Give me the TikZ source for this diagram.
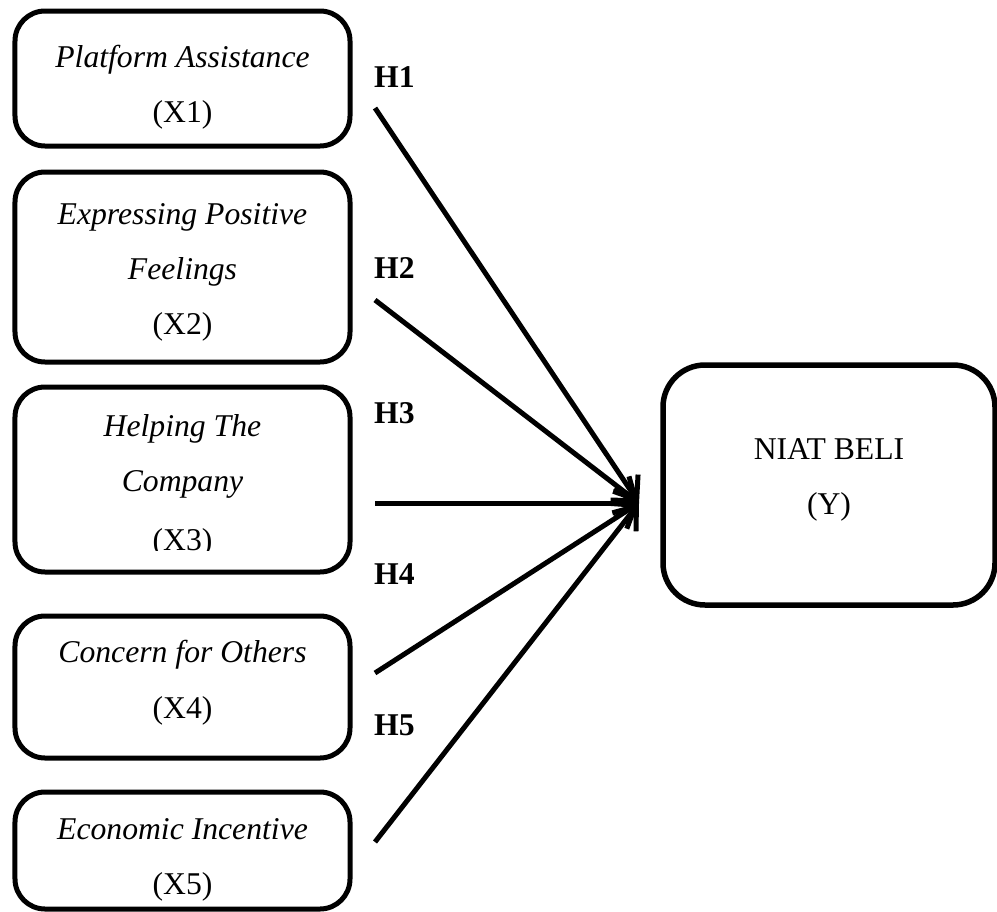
\documentclass[tikz,border=0pt]{standalone}
\usepackage{fontspec}
\setmainfont{Liberation Serif}
\usetikzlibrary{arrows.meta}
\begin{document}
\begin{tikzpicture}[x=1bp,y=-1bp,
  box/.style={draw, line width=5bp, rounded corners=30bp, inner sep=0pt, minimum width=335bp},
  ybox/.style={draw, line width=5.5bp, rounded corners=42bp, inner sep=0pt, minimum width=332bp, minimum height=240bp},
  txt/.style={anchor=base, inner sep=0pt, font=\fontsize{31.8}{38}\selectfont},
  itx/.style={txt, font=\fontsize{31.8}{38}\selectfont\itshape},
  hyp/.style={anchor=base west, inner sep=0pt, font=\fontsize{31.8}{38}\selectfont\bfseries},
  link/.style={line width=5bp, -{Straight Barb[length=20bp,width=30bp]}}
]
\useasboundingbox (0,0) rectangle (997,912);

% boxes
\node[box, minimum height=135bp] (b1) at (182.5,78.5) {};
\node[box, minimum height=190bp] (b2) at (182.5,267) {};
\node[box, minimum height=185bp] (b3) at (182.5,479.5) {};
\node[box, minimum height=142bp] (b4) at (182.5,687) {};
\node[box, minimum height=117bp] (b5) at (182.5,850.5) {};
\node[ybox] (y) at (829,485) {};

% texts
\node[itx] (t1a) at (182.5,67) {Platform Assistance};
\node[txt] (t1b) at (182.5,122) {(X1)};
\node[itx] (t2a) at (182.5,224) {Expressing Positive};
\node[itx] (t2b) at (182.5,279) {Feelings};
\node[txt] (t2c) at (182.5,334) {(X2)};
\node[itx] (t3a) at (182.5,436) {Helping The};
\node[itx] (t3b) at (182.5,491) {Company};
\begin{scope}
  \clip (15,500) rectangle (350,550);
  \node[txt] (t3c) at (182.5,550) {(X3)};
\end{scope}
\node[itx] (t4a) at (182.5,662) {Concern for Others};
\node[txt] (t4b) at (182.5,718) {(X4)};
\node[itx] (t5a) at (182.5,839) {Economic Incentive};
\node[txt] (t5b) at (182.5,894) {(X5)};
\node[txt] (ya) at (829,459) {NIAT BELI};
\node[txt] (yb) at (829,514) {(Y)};

% hypothesis labels
\node[hyp] (h1) at (374,87) {H1};
\node[hyp] (h2) at (374,278) {H2};
\node[hyp] (h3) at (374,423) {H3};
\node[hyp] (h4) at (374,584) {H4};
\node[hyp] (h5) at (374,735) {H5};

% connectors
\coordinate (s1) at (375,108);
\coordinate (s2) at (375,300);
\coordinate (s3) at (375,503);
\coordinate (s4) at (375,673);
\coordinate (s5) at (375,842);
\coordinate (tip) at (639,503);
\draw[link] (s1) -- (tip);
\draw[link] (s2) -- (tip);
\draw[link] (s3) -- (tip);
\draw[link] (s4) -- (tip);
\draw[link] (s5) -- (tip);
\end{tikzpicture}
\end{document}
